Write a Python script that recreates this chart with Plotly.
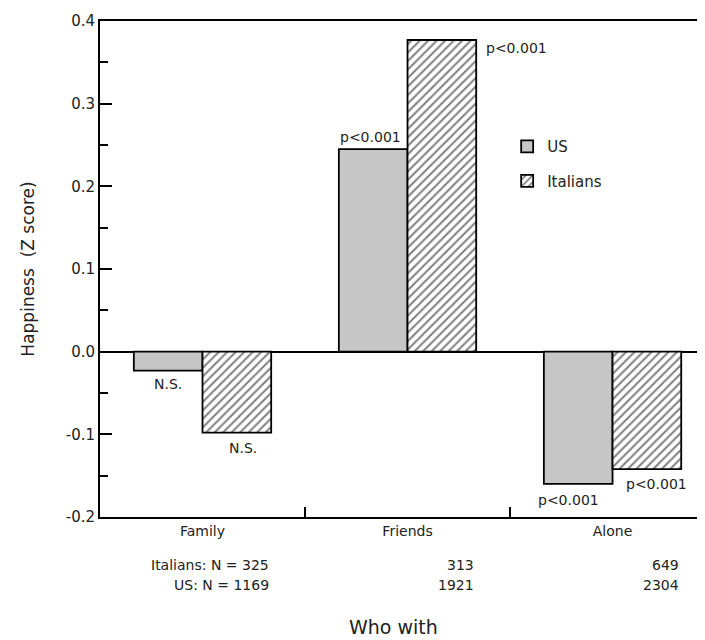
import plotly.graph_objects as go

categories = ["Family", "Friends", "Alone"]
us_values = [-0.023, 0.245, -0.160]
it_values = [-0.098, 0.377, -0.142]
us_labels = ["N.S.", "p<0.001", "p<0.001"]
it_labels = ["N.S.", "p<0.001", "p<0.001"]
it_n = ["Italians: N = 325", "313", "649"]
us_n = ["US: N = 1169", "1921", "2304"]
y_ticks = [-0.2, -0.1, 0.0, 0.1, 0.2, 0.3, 0.4]
y_ticktext = ["-0.2", "-0.1", "0.0", "0.1", "0.2", "0.3", "0.4"]

FONT = "DejaVu Sans"
INK = "#222222"
bargap = 0.33
half = (1 - bargap) / 2  # width of one bar in axis units
xpos = list(range(len(categories)))

fig = go.Figure()
fig.add_trace(go.Bar(
    x=xpos, y=us_values, name="US", legendgroup="us",
    marker=dict(color="#c6c6c6", line=dict(color="black", width=1.8)),
))
fig.add_trace(go.Bar(
    x=xpos, y=it_values, name="Italians", legendgroup="it",
    marker=dict(color="white", line=dict(color="black", width=1.8),
                pattern=dict(shape="/", fgcolor="black", bgcolor="white",
                             size=6, solidity=0.33)),
))

ann = []
# Family
ann.append(dict(x=xpos[0] - half / 2, y=us_values[0], text=us_labels[0],
                xanchor="center", yanchor="top", yshift=-3))
ann.append(dict(x=xpos[0] + half / 2, y=it_values[0], text=it_labels[0],
                xanchor="center", yanchor="top", xshift=6, yshift=-5))
# Friends
ann.append(dict(x=xpos[1], y=us_values[1], text=us_labels[1],
                xanchor="right", yanchor="bottom", xshift=-5, yshift=2))
ann.append(dict(x=xpos[1] + half, y=it_values[1], text=it_labels[1],
                xanchor="left", yanchor="top", xshift=8, yshift=2))
# Alone
ann.append(dict(x=xpos[2] - half / 2, y=us_values[2], text=us_labels[2],
                xanchor="center", yanchor="top", xshift=-10, yshift=-6))
ann.append(dict(x=xpos[2] + half / 2, y=it_values[2], text=it_labels[2],
                xanchor="center", yanchor="top", xshift=10, yshift=-5))
for a in ann:
    a.update(xref="x", yref="y", showarrow=False,
             font=dict(family=FONT, size=14, color=INK))

for i in xpos:
    ann.append(dict(x=i + half, y=0, xref="x", yref="paper", text=it_n[i],
                    xanchor="right", yanchor="middle", yshift=-48, showarrow=False,
                    font=dict(family=FONT, size=14, color=INK)))
    ann.append(dict(x=i + half, y=0, xref="x", yref="paper", text=us_n[i],
                    xanchor="right", yanchor="middle", yshift=-68, showarrow=False,
                    font=dict(family=FONT, size=14, color=INK)))

ann.append(dict(x=0.485, y=0, xref="paper", yref="paper", text="Who with",
                xanchor="center", yanchor="middle", yshift=-110, showarrow=False,
                font=dict(family=FONT, size=19, color=INK)))

fig.update_layout(
    width=697, height=632,
    margin=dict(l=92, r=0, t=13, b=123),
    paper_bgcolor="white", plot_bgcolor="white",
    barmode="group", bargap=bargap, bargroupgap=0,
    font=dict(family=FONT, size=14, color=INK),
    annotations=ann,
    legend=dict(x=0.673, y=0.78, xanchor="left", yanchor="top",
                font=dict(family=FONT, size=15, color=INK),
                traceorder="grouped", tracegroupgap=12,
                bgcolor="rgba(0,0,0,0)"),
    xaxis=dict(
        range=[-0.5, 2.451], tickmode="array", tickvals=xpos, ticktext=categories,
        ticks="", showline=True, linecolor="black", linewidth=2, mirror=True,
        showgrid=False, zeroline=False,
        tickfont=dict(family=FONT, size=14, color=INK),
        minor=dict(tickvals=[0.5, 1.5], ticks="inside", ticklen=10,
                   tickcolor="black", tickwidth=1.5),
    ),
    yaxis=dict(
        range=[-0.2, 0.4], tickmode="array", tickvals=y_ticks, ticktext=y_ticktext,
        ticks="inside", ticklen=12, tickwidth=1.5, tickcolor="black",
        showline=True, linecolor="black", linewidth=2,
        showgrid=False, zeroline=True, zerolinecolor="black", zerolinewidth=2,
        tickfont=dict(family=FONT, size=15, color=INK),
        minor=dict(dtick=0.05, ticks="inside", ticklen=8, tickcolor="black",
                   tickwidth=1.5, showgrid=False),
        title=dict(text="Happiness  (Z score)", standoff=27,
                   font=dict(family=FONT, size=17, color=INK)),
    ),
)

fig.write_html("out.html")
